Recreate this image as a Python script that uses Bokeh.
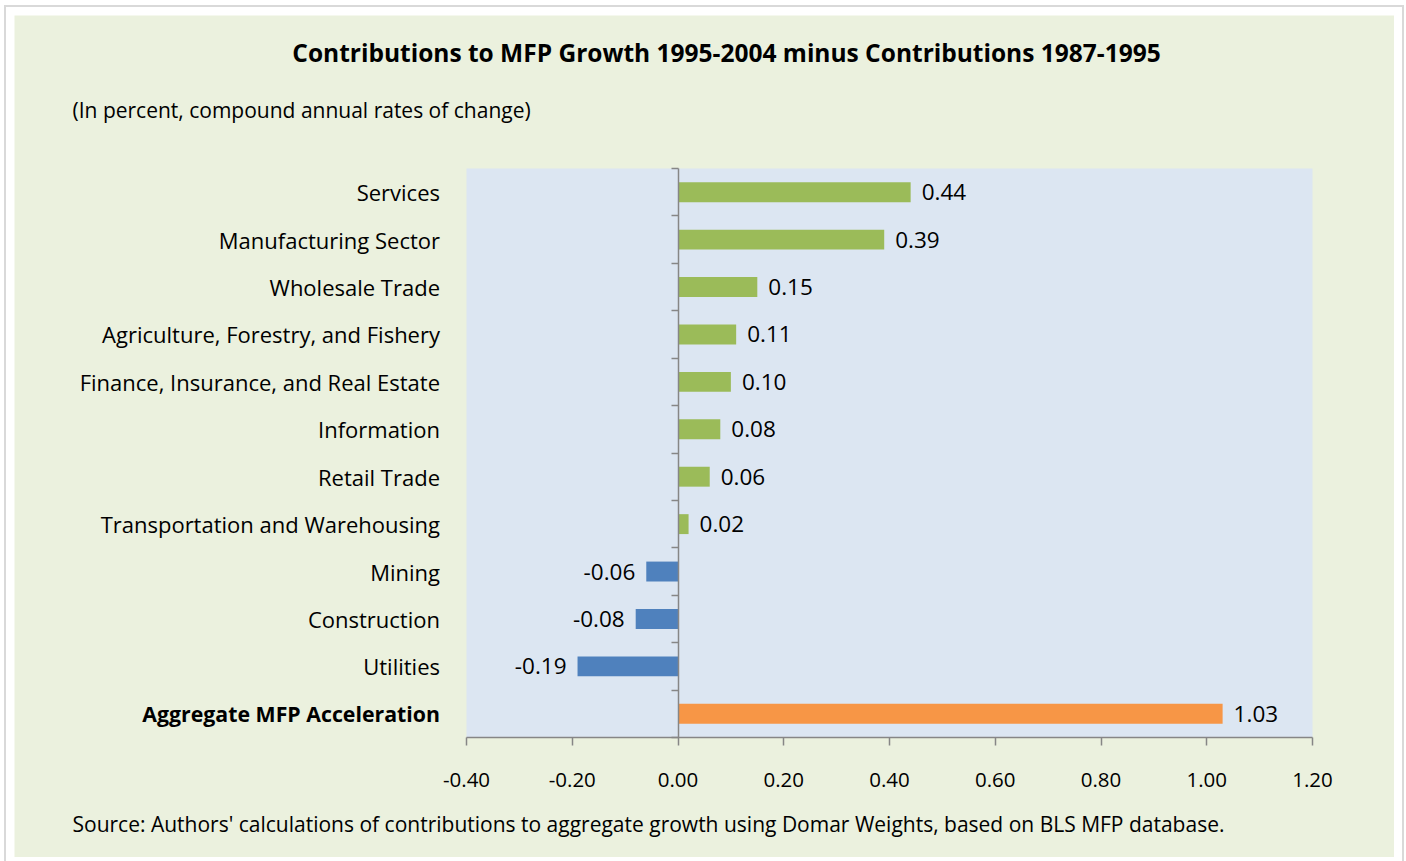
import numpy as np
from bokeh.plotting import figure
from bokeh.models import (Range1d, LinearAxis, FixedTicker, NumeralTickFormatter,
                          ColumnDataSource)
from bokeh.embed import file_html
from bokeh.resources import INLINE
from bokeh.core.properties import value

# ---------------- data ----------------
categories = [
    "Services",
    "Manufacturing Sector",
    "Wholesale Trade",
    "Agriculture, Forestry, and Fishery",
    "Finance, Insurance, and Real Estate",
    "Information",
    "Retail Trade",
    "Transportation and Warehousing",
    "Mining",
    "Construction",
    "Utilities",
    "Aggregate MFP Acceleration",
]
values = [0.44, 0.39, 0.15, 0.11, 0.10, 0.08, 0.06, 0.02, -0.06, -0.08, -0.19, 1.03]
value_labels = ["0.44", "0.39", "0.15", "0.11", "0.10", "0.08", "0.06", "0.02",
                "-0.06", "-0.08", "-0.19", "1.03"]
x_ticks = [-0.40, -0.20, 0.00, 0.20, 0.40, 0.60, 0.80, 1.00, 1.20]

title_text = "Contributions to MFP Growth 1995-2004 minus Contributions 1987-1995"
subtitle_text = "(In percent, compound annual rates of change)"
source_text = ("Source: Authors' calculations of contributions to aggregate growth using "
               "Domar Weights, based on BLS MFP database.")

# ---------------- style ----------------
GREEN = "#9BBB59"
BLUE = "#4F81BD"
ORANGE = "#F79646"
OUTER = "#EBF1DE"
INNER = "#DCE6F2"
AXIS = "#868686"
FONT = "Open Sans"
FS_AXIS = "20.5px"
FS_VAL = "22.5px"
FS_CAT = "22px"
FS_CAT_BOLD = "21.3px"
FS_TXT = "21px"
FS_TITLE = "24.5px"

# figure placed at page (14, 15); plot-area edges in page pixels
PX, PY = 14, 15
W, H = 1380, 842
FL, FR, FT, FB = 466, 1312, 168, 737
CAT_RIGHT = 440  # right edge of the category labels (page px)
TICK = 7         # length of the category boundary ticks

n = len(categories)
ys = np.arange(n)
vals = np.array(values)
colors = [ORANGE if i == n - 1 else (GREEN if v >= 0 else BLUE) for i, v in enumerate(values)]

x0, x1 = x_ticks[0], x_ticks[-1]
yt, yb = -0.5, n - 0.5          # top / bottom edges of the plot area (category units)
SX = (FR - FL) / (x1 - x0)      # px per x unit
SY = (FB - FT) / (yb - yt)      # px per category


def X(px):
    return x0 + (px - FL) / SX


def Y(py):
    return yt + (py - FT) / SY


p = figure(width=W, height=H, output_backend="svg", toolbar_location=None,
           x_range=Range1d(X(PX), X(PX + W)), y_range=Range1d(Y(PY + H), Y(PY)),
           x_axis_location=None, y_axis_location=None,
           min_border_left=0, min_border_right=0, min_border_top=0, min_border_bottom=0)
p.margin = (PY, 0, 0, PX)
p.styles = {"outline": "2px solid #D9D9D9", "outline-offset": "8px"}
p.background_fill_color = OUTER
p.border_fill_color = OUTER
p.outline_line_color = None
p.grid.visible = False

# plot area
p.quad(left=[x0], right=[x1], top=[yt], bottom=[yb], fill_color=INNER, line_color=None)

# bars
src = ColumnDataSource(dict(y=ys, v=vals, c=colors))
p.hbar(y="y", left=0, right="v", height=0.42, fill_color="c", line_color=None, source=src)

# value labels
pos = vals >= 0
p.text(x=vals[pos], y=ys[pos], text=[value_labels[i] for i in range(n) if pos[i]],
       x_offset=11, text_align="left", text_baseline="middle",
       text_font=value(FONT), text_font_size=FS_VAL, text_color="black")
neg = ~pos
p.text(x=vals[neg], y=ys[neg], text=[value_labels[i] for i in range(n) if neg[i]],
       x_offset=-11, text_align="right", text_baseline="middle",
       text_font=value(FONT), text_font_size=FS_VAL, text_color="black")

# category axis crossing at x = 0: line + boundary ticks, labels out at the left
zero_px = FL + (0 - x0) * SX
standoff = int(round(zero_px - CAT_RIGHT))
yax = LinearAxis(fixed_location=0, bounds=(yt, yb),
                 ticker=FixedTicker(ticks=[float(i) for i in range(n - 1)],
                                    minor_ticks=[i - 0.5 for i in range(n + 1)]),
                 major_label_overrides={i: categories[i] for i in range(n - 1)},
                 axis_line_color=AXIS, axis_line_width=1.5,
                 major_tick_line_color=None, major_tick_out=0, major_tick_in=0,
                 minor_tick_line_color=AXIS, minor_tick_line_width=1.5,
                 minor_tick_out=TICK, minor_tick_in=0,
                 major_label_standoff=standoff - TICK, major_label_text_font=FONT,
                 major_label_text_font_size=FS_CAT, major_label_text_color="black")
p.add_layout(yax, "left")
yax_bold = LinearAxis(fixed_location=0, bounds=(yt, yb),
                      ticker=FixedTicker(ticks=[float(n - 1)], minor_ticks=[]),
                      major_label_overrides={n - 1: categories[n - 1]},
                      axis_line_color=None, major_tick_line_color=None,
                      minor_tick_line_color=None, major_tick_out=0, major_tick_in=0,
                      minor_tick_out=0, minor_tick_in=0,
                      major_label_standoff=standoff, major_label_text_font=FONT,
                      major_label_text_font_size=FS_CAT_BOLD,
                      major_label_text_font_style="bold", major_label_text_color="black")
p.add_layout(yax_bold, "left")

# horizontal value axis along the bottom of the plot area
xax = LinearAxis(fixed_location=yb, bounds=(x0, x1), ticker=FixedTicker(ticks=x_ticks),
                 formatter=NumeralTickFormatter(format="0.00"),
                 axis_line_color=AXIS, axis_line_width=1.5,
                 major_tick_line_color=AXIS, major_tick_line_width=1.5,
                 major_tick_out=8, major_tick_in=0, minor_tick_out=0, minor_tick_in=0,
                 major_label_standoff=27, major_label_text_font=FONT,
                 major_label_text_font_size=FS_AXIS, major_label_text_color="black")
p.add_layout(xax, "below")

# titles and source
p.text(x=[X(726)], y=[Y(52)], text=[title_text], text_align="center",
       text_baseline="middle", text_font=value(FONT), text_font_size=FS_TITLE,
       text_font_style="bold", text_color="black")
p.text(x=[X(72)], y=[Y(109)], text=[subtitle_text], text_align="left",
       text_baseline="middle", text_font=value(FONT), text_font_size=FS_TXT,
       text_color="black")
p.text(x=[X(72)], y=[Y(823)], text=[source_text], text_align="left",
       text_baseline="middle", text_font=value(FONT), text_font_size=FS_TXT,
       text_color="black")

open("out.html", "w").write(file_html(p, INLINE))
